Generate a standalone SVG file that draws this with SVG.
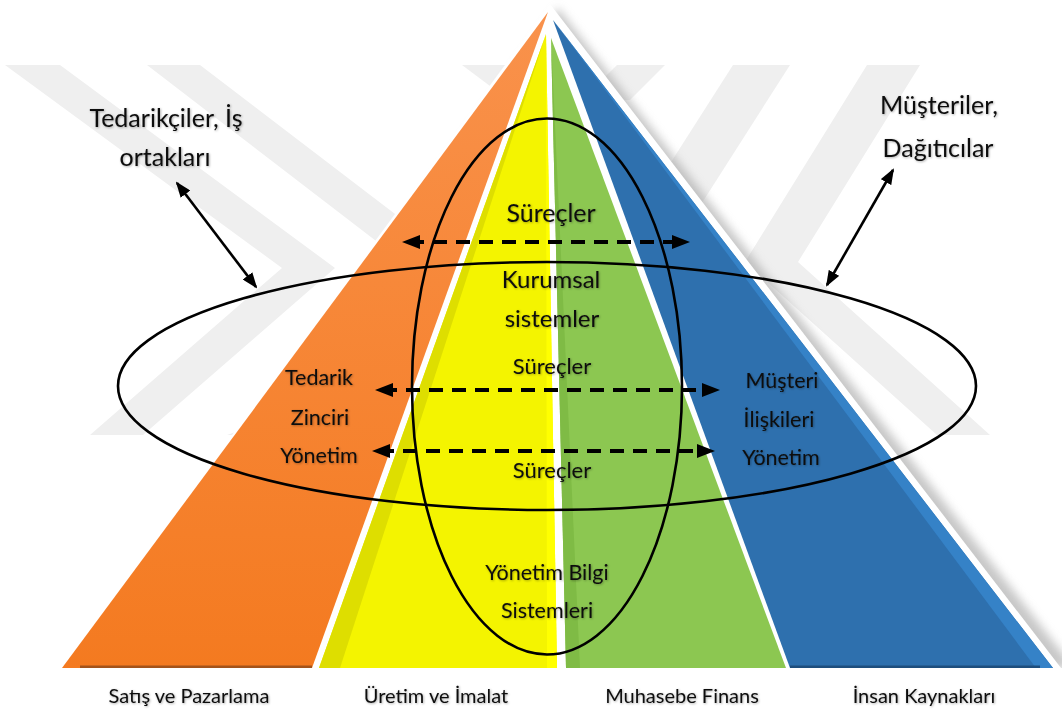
<svg xmlns="http://www.w3.org/2000/svg" width="1062" height="711" viewBox="0 0 1062 711">
<defs>
<style>
.wm{fill:#efefef}
text{font-family:Lato,"Liberation Sans",sans-serif;fill:#0d0d0d;text-anchor:middle;filter:url(#tsh)}
.t{font-size:25px}
.tk{font-size:24px}
.tm{font-size:21.5px}
.ts{font-size:22px}
.tb{font-size:20px}
.ell{fill:none;stroke:#000;stroke-width:2.6}
.dash{fill:none;stroke:#000;stroke-width:4;stroke-dasharray:14 9}
.sol{fill:none;stroke:#000;stroke-width:2.6}
</style>
<linearGradient id="og" x1="0" y1="12" x2="0" y2="668" gradientUnits="userSpaceOnUse">
<stop offset="0" stop-color="#f9924c"/>
<stop offset="1" stop-color="#f47a20"/>
</linearGradient>
<filter id="blur" x="-10%" y="-10%" width="120%" height="120%">
<feGaussianBlur stdDeviation="5"/>
</filter>
<filter id="tsh" x="-10%" y="-30%" width="120%" height="160%">
<feDropShadow dx="0.8" dy="0.8" stdDeviation="0.8" flood-color="#000" flood-opacity="0.35"/>
</filter>
<clipPath id="abovebase"><rect x="0" y="0" width="1062" height="668"/></clipPath>
<marker id="dh" viewBox="0 0 18 14" refX="10" refY="7" markerWidth="18" markerHeight="14" markerUnits="userSpaceOnUse" orient="auto-start-reverse">
<path d="M0,0 L18,7 L0,14 z" fill="#000"/>
</marker>
<marker id="sh" viewBox="0 0 16 12" refX="14" refY="6" markerWidth="16" markerHeight="12" markerUnits="userSpaceOnUse" orient="auto-start-reverse">
<path d="M0,0 L16,6 L0,12 z" fill="#000"/>
</marker>
</defs>
<rect width="1062" height="711" fill="#fff"/>
<g id="watermark">
<polygon class="wm" points="5,65 60,65 335,268 143,435 90,435 282,268"/>
<polygon class="wm" points="147,65 200,65 560,340 280,435 227,435 505,340"/>
<polygon class="wm" points="462,65 515,65 555,95 502,95"/>
<polygon class="wm" points="867,65 920,65 798,262 990,435 937,435 745,262"/>
<polygon class="wm" points="733,65 790,65 640,300 583,300"/>
<polygon class="wm" points="617,65 665,65 630,100 582,100"/>
</g>
<g id="pyramid">
<g clip-path="url(#abovebase)">
<polygon points="558,8 80,668 1074,668" fill="#9a9a9a" opacity="0.55" filter="url(#blur)"/>
</g>
<polygon points="550,4 60,668 1061,668" fill="#fff"/>
<g id="seg-satis">
<polygon points="548,12 62,668 312,668" fill="url(#og)"/>
<rect x="80" y="665.5" width="232" height="2.5" fill="#a4531a"/>
</g>
<g id="seg-uretim">
<polygon points="546,34 319,668 557,668" fill="#f4f400"/>
<polygon points="546,34 319,668 340,668" fill="#dede00"/>
<polygon points="546,34 547,668 557,668" fill="#ffff00"/>
</g>
<g id="seg-muhasebe">
<polygon points="551,38 566,668 786,668" fill="#8cc751"/>
<polygon points="551,38 566,668 580,668" fill="#7fbb45"/>
</g>
<g id="seg-insan">
<polygon points="553,20 790,668 1053,668" fill="#2e70ae"/>
<polygon points="553,20 1036,668 1053,668" fill="#3582c7"/>
<rect x="790" y="665.5" width="250" height="2.5" fill="#1e4e7d"/>
</g>
</g>
<g id="ellipses">
<ellipse id="kurumsal-ellipse" class="ell" cx="547" cy="386" rx="429" ry="124"/>
<ellipse id="ybs-ellipse" class="ell" cx="547" cy="386.5" rx="135" ry="268"/>
</g>
<g id="connectors">
<line class="dash" x1="410" y1="242" x2="682" y2="242" marker-start="url(#dh)" marker-end="url(#dh)"/>
<line class="dash" x1="383" y1="390" x2="712" y2="390" marker-start="url(#dh)" marker-end="url(#dh)"/>
<line class="dash" x1="380" y1="451" x2="707" y2="451" marker-start="url(#dh)" marker-end="url(#dh)"/>
<line class="sol" x1="177" y1="183" x2="256" y2="287" marker-start="url(#sh)" marker-end="url(#sh)"/>
<line class="sol" x1="893" y1="170" x2="827" y2="285" marker-start="url(#sh)" marker-end="url(#sh)"/>
</g>
<g id="label-tedarikciler">
<text class="t" x="166" y="127">Tedarikçiler, İş</text>
<text class="t" x="165" y="166">ortakları</text>
</g>
<g id="label-musteriler">
<text class="t" x="939" y="114">Müşteriler,</text>
<text class="t" x="938" y="157">Dağıtıcılar</text>
</g>
<g id="label-surecler-top">
<text class="t" x="551" y="222">Süreçler</text>
</g>
<g id="label-kurumsal">
<text class="tk" x="551" y="288">Kurumsal</text>
<text class="tk" x="552" y="327">sistemler</text>
</g>
<g id="label-surecler-mid">
<text class="ts" x="552" y="374">Süreçler</text>
</g>
<g id="label-surecler-low">
<text class="ts" x="552" y="478">Süreçler</text>
</g>
<g id="label-tedarik-zinciri">
<text class="tm" x="319" y="385">Tedarik</text>
<text class="tm" x="320" y="425">Zinciri</text>
<text class="tm" x="319" y="463">Yönetim</text>
</g>
<g id="label-musteri-iliskileri">
<text class="tm" x="782" y="388">Müşteri</text>
<text class="tm" x="779" y="427">İlişkileri</text>
<text class="tm" x="781" y="465">Yönetim</text>
</g>
<g id="label-ybs">
<text class="tm" x="547" y="580">Yönetim Bilgi</text>
<text class="tm" x="547" y="618">Sistemleri</text>
</g>
<g id="base-labels">
<text class="tb" x="189" y="703">Satış ve Pazarlama</text>
<text class="tb" x="436" y="703">Üretim ve İmalat</text>
<text class="tb" x="682" y="703">Muhasebe Finans</text>
<text class="tb" x="924" y="703">İnsan Kaynakları</text>
</g>
</svg>
